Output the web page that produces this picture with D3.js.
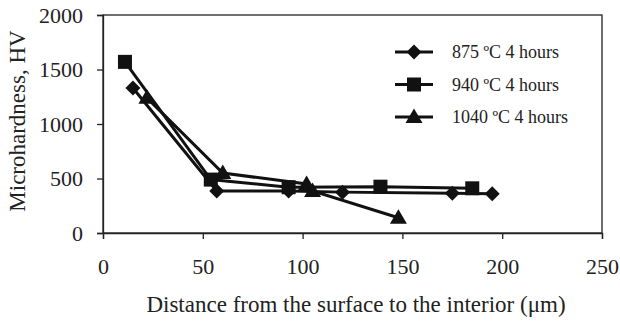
<!DOCTYPE html>
<html><head><meta charset="utf-8">
<script src="https://cdn.jsdelivr.net/npm/d3@7"></script>
<style>body{margin:0;background:#fff}</style>
</head><body>
<svg id="c" width="620" height="322"></svg>
<script>
const series875 = [[15,1330],[57,385],[93,385],[120,375],[175,365],[195,360]];
const series940 = [[11,1570],[54,490],[93,420],[139,425],[185,410]];
const series1040 = [[22,1240],[60,550],[102,450],[105,385],[148,140]];
const seriesNames = ["875 ºC 4 hours","940 ºC 4 hours","1040 ºC 4 hours"];
const xTicks = [0,50,100,150,200,250];
const yTicks = [0,500,1000,1500,2000];

const svg = d3.select("#c");
const m = {l:103,r:602,t:15,b:233};
const x = d3.scaleLinear().domain([0,250]).range([m.l,m.r]);
const y = d3.scaleLinear().domain([0,2000]).range([m.b,m.t]);
const font = "Liberation Serif, Times New Roman, serif";

svg.append("rect").attr("x",m.l).attr("y",m.t).attr("width",m.r-m.l).attr("height",m.b-m.t)
  .attr("fill","none").attr("stroke","#222").attr("stroke-width",1.3);

const xa = svg.append("g").attr("transform",`translate(0,${m.b})`)
  .call(d3.axisBottom(x).tickValues(xTicks).tickFormat(d3.format("d")).tickSize(6).tickPadding(19));
const ya = svg.append("g").attr("transform",`translate(${m.l},0)`)
  .call(d3.axisLeft(y).tickValues(yTicks).tickFormat(d3.format("d")).tickSize(6).tickPadding(14));
[xa,ya].forEach(a=>{
  a.select(".domain").attr("stroke","#222").attr("stroke-width",1.3);
  a.selectAll("line").attr("stroke","#222").attr("stroke-width",1.3);
  a.selectAll("text").attr("font-family",font).attr("font-size",22).attr("fill","#222");
});

svg.append("text").attr("x",356).attr("y",312).attr("text-anchor","middle")
  .attr("font-family",font).attr("font-size",23).attr("fill","#222")
  .text("Distance from the surface to the interior (μm)");
svg.append("text").attr("transform",`translate(25,121) rotate(-90)`)
  .attr("text-anchor","middle").attr("font-family",font).attr("font-size",23).attr("fill","#222")
  .text("Microhardness, HV");

const line = d3.line().x(d=>x(d[0])).y(d=>y(d[1]));
function marker(g,type,cx,cy){
  if(type===0){ g.append("path").attr("d",`M${cx},${cy-7.5}L${cx+7.5},${cy}L${cx},${cy+7.5}L${cx-7.5},${cy}Z`).attr("fill","#111"); }
  else if(type===1){ g.append("rect").attr("x",cx-7).attr("y",cy-7).attr("width",14).attr("height",14).attr("fill","#111"); }
  else { g.append("path").attr("d",`M${cx},${cy-8.5}L${cx+8.5},${cy+6}L${cx-8.5},${cy+6}Z`).attr("fill","#111"); }
}
const all = [series875,series940,series1040];
all.forEach((s,i)=>{
  const g = svg.append("g");
  g.append("path").datum(s).attr("d",line).attr("fill","none").attr("stroke","#111").attr("stroke-width",3);
  s.forEach(d=>marker(g,i,x(d[0]),y(d[1])));
});

const lg = svg.append("g");
seriesNames.forEach((n,i)=>{
  const yy = 52 + i*32.5;
  lg.append("line").attr("x1",395).attr("x2",433).attr("y1",yy).attr("y2",yy).attr("stroke","#111").attr("stroke-width",3);
  marker(lg,i,414,yy);
  lg.append("text").attr("x",452).attr("y",yy+6).attr("font-family",font).attr("font-size",18).attr("fill","#222").text(n);
});
</script>
</body></html>
